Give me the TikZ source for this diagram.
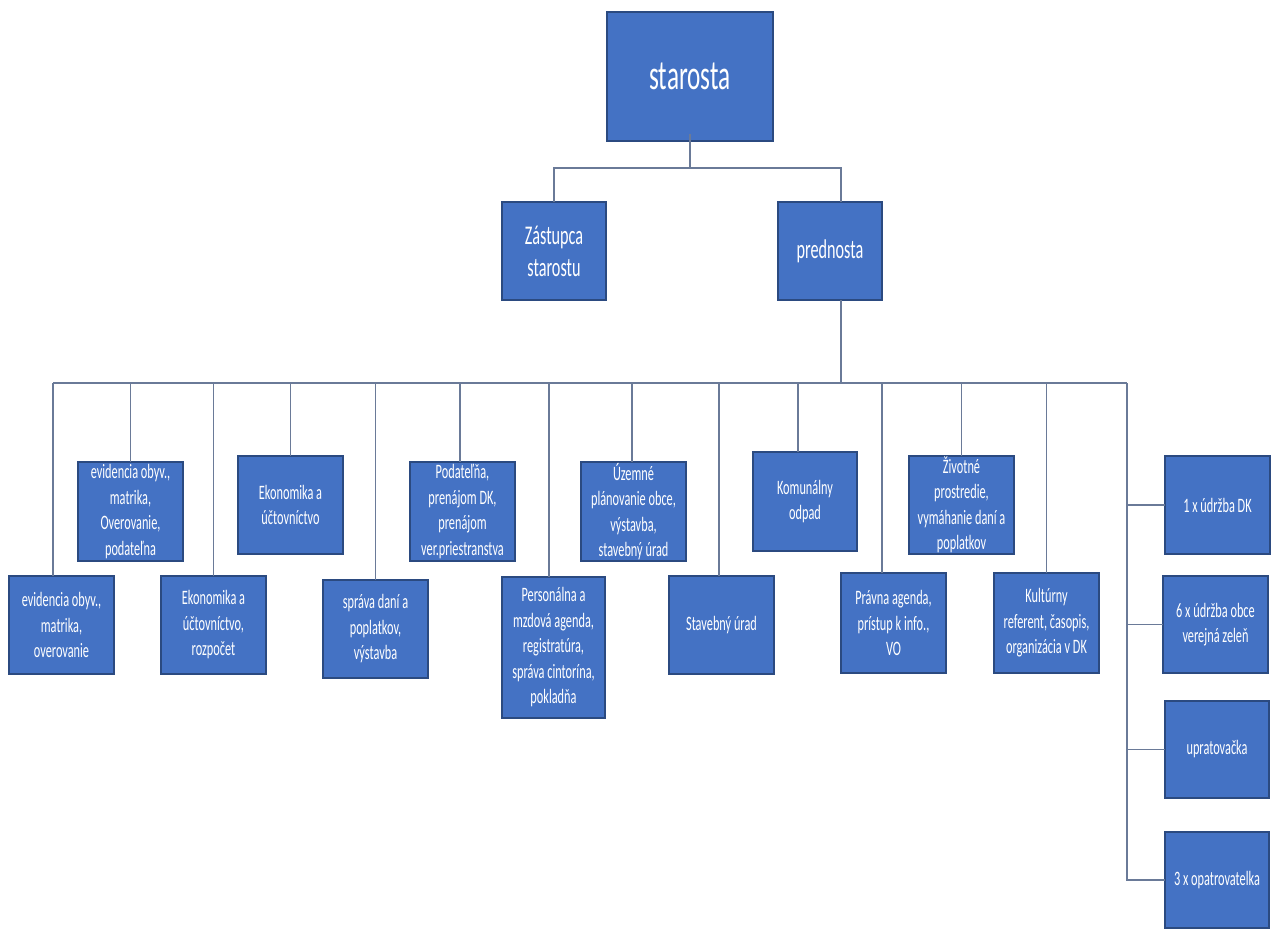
\documentclass[tikz,border=0pt]{standalone}
\usepackage{fontspec}
\setmainfont{Carlito}[FakeStretch=0.6]
\definecolor{boxfill}{HTML}{4472C4}
\definecolor{boxline}{HTML}{2B4A80}
\definecolor{conn}{HTML}{6A7A98}
\begin{document}
\begin{tikzpicture}[x=1pt,y=-1pt,
  orgbox/.style={draw=boxline,line width=1.8pt,fill=boxfill,text=white,
    inner sep=0pt,outer sep=0pt,align=center,
    font=\fontsize{20.5}{25.5}\selectfont},
  link/.style={draw=conn,line width=1.5pt}]
\useasboundingbox (0,0) rectangle (1273,929);
% top level
\node[orgbox,minimum width=166,minimum height=129,font=\fontsize{42}{50}\selectfont] (star) at (690,76.5) {starosta};
\node[orgbox,minimum width=104,minimum height=98,font=\fontsize{27}{32}\selectfont] (zast) at (554,251) {Zástupca\\starostu};
\node[orgbox,minimum width=104,minimum height=98,font=\fontsize{27}{32}\selectfont] (pred) at (830,251) {prednosta};
% departments
\node[orgbox,minimum width=105,minimum height=98] (b1) at (61.5,625) {evidencia obyv.,\\matrika,\\overovanie};
\node[orgbox,minimum width=105,minimum height=99] (b2) at (130.5,511.5) {evidencia obyv.,\\matrika,\\Overovanie,\\podateľna};
\node[orgbox,minimum width=105,minimum height=98] (b3) at (213.5,625) {Ekonomika a\\účtovníctvo,\\rozpočet};
\node[orgbox,minimum width=105,minimum height=98] (b4) at (290.5,505) {Ekonomika a\\účtovníctvo};
\node[orgbox,minimum width=105,minimum height=98] (b5) at (375.5,629) {správa daní a\\poplatkov,\\výstavba};
\node[orgbox,minimum width=105,minimum height=99] (b6) at (462.5,511.5) {Podateľňa,\\prenájom DK,\\prenájom\\ver.priestranstva};
\node[orgbox,minimum width=103,minimum height=141] (b7) at (553.5,647.5) {Personálna a\\mzdová agenda,\\registratúra,\\správa cintorína,\\pokladňa};
\node[orgbox,minimum width=105,minimum height=99] (b8) at (633.5,511.5) {Územné\\plánovanie obce,\\výstavba,\\stavebný úrad};
\node[orgbox,minimum width=105,minimum height=98] (b9) at (721.5,625) {Stavebný úrad};
\node[orgbox,minimum width=104,minimum height=99] (b10) at (805,501.5) {Komunálny\\odpad};
\node[orgbox,minimum width=105,minimum height=100] (b11) at (893.5,623) {Právna agenda,\\prístup k info.,\\VO};
\node[orgbox,minimum width=105,minimum height=98] (b12) at (961.5,505) {Životné\\prostredie,\\vymáhanie daní a\\poplatkov};
\node[orgbox,minimum width=105,minimum height=100] (b13) at (1046.5,623) {Kultúrny\\referent, časopis,\\organizácia v DK};
% right column
\node[orgbox,minimum width=105,minimum height=98] (r1) at (1217.5,505) {1 x údržba DK};
\node[orgbox,minimum width=105,minimum height=97] (r2) at (1215.5,624.5) {6 x údržba obce\\verejná zeleň};
\node[orgbox,minimum width=104,minimum height=97] (r3) at (1217,749.5) {upratovačka};
\node[orgbox,minimum width=104,minimum height=96] (r4) at (1217,880) {3 x opatrovatelka};
% bus coordinates
\coordinate (topbus) at (690,168);
\coordinate (bus) at (53,383);
\coordinate (spine) at (1127,383);
% connectors top
\draw[link] ([yshift=7pt]star.south) -- (topbus);
\draw[link] (zast.north) |- (topbus);
\draw[link] ([xshift=11pt]pred.north) |- (topbus);
\draw[link] ([xshift=11pt]pred.south) -- ([xshift=11pt]pred.south |- bus);
\draw[link] (bus) -- (spine);
% connectors to departments
\draw[link] ([xshift=-8.5pt]b1.north) -- ([xshift=-8.5pt]b1.north |- bus);
\draw[link] (b2.north) -- (b2.north |- bus);
\draw[link] (b3.north) -- (b3.north |- bus);
\draw[link] (b4.north) -- (b4.north |- bus);
\draw[link] (b5.north) -- (b5.north |- bus);
\draw[link] ([xshift=-2.5pt]b6.north) -- ([xshift=-2.5pt]b6.north |- bus);
\draw[link] ([xshift=-4.5pt]b7.north) -- ([xshift=-4.5pt]b7.north |- bus);
\draw[link] ([xshift=-1.5pt]b8.north) -- ([xshift=-1.5pt]b8.north |- bus);
\draw[link] ([xshift=-2.5pt]b9.north) -- ([xshift=-2.5pt]b9.north |- bus);
\draw[link] ([xshift=-7pt]b10.north) -- ([xshift=-7pt]b10.north |- bus);
\draw[link] ([xshift=-11.5pt]b11.north) -- ([xshift=-11.5pt]b11.north |- bus);
\draw[link] (b12.north) -- (b12.north |- bus);
\draw[link] (b13.north) -- (b13.north |- bus);
% right spine
\draw[link] (spine) |- (r4.west);
\draw[link] (spine |- r1.west) -- (r1.west);
\draw[link] (spine |- r2.west) -- (r2.west);
\draw[link] (spine |- r3.west) -- (r3.west);
\end{tikzpicture}
\end{document}
